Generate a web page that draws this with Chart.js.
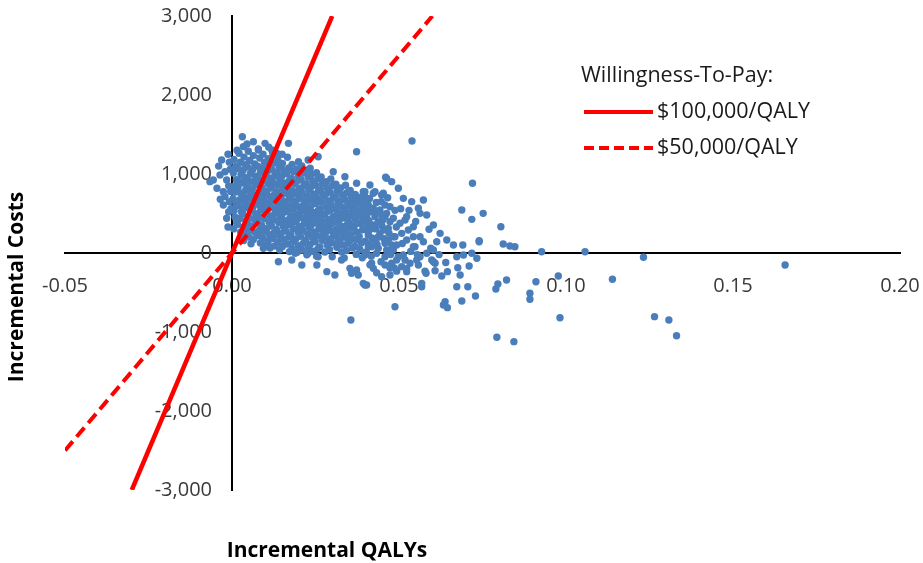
<!DOCTYPE html>
<html lang="en">
<head>
<meta charset="UTF-8">
<title>Incremental cost-effectiveness plane</title>
<script src="https://cdn.jsdelivr.net/npm/chart.js@4.4.0/dist/chart.umd.min.js"></script>
<style>
    html, body { margin: 0; padding: 0; background: #fff; }
    .wrap { width: 923px; height: 563px; position: relative; }
</style>
</head>
<body>
<div class="wrap"><canvas id="plane"></canvas></div>
<script>
// axis ticks
const xTicks = [-0.05, 0.00, 0.05, 0.10, 0.15, 0.20];
const yTicks = [-3000, -2000, -1000, 0, 1000, 2000, 3000];

// willingness-to-pay thresholds (end points of each line)
const wtpLabels = ['$100,000/QALY', '$50,000/QALY'];
const wtp100 = [[-0.03, -3000], [0.03, 3000]];
const wtp50 = [[-0.05, -2500], [0.06, 3000]];

// simulations: [incremental QALYs, incremental costs]
// left of the y axis
const leftPts = [[-0.0031,1177],[-0.0056,924],[-0.0066,903],[-0.0021,1029],[-0.0036,987],[-0.0016,924],
    [-0.0026,776],[-0.0021,713],[-0.0026,608],[-0.0016,439],[-0.0040,1100],[-0.0012,1250],[-0.0008,1150],
    [-0.0045,820],[-0.0010,850],[-0.0008,650],[-0.0035,680],[-0.0010,520],[-0.0012,330],[-0.0005,1060],
    [-0.0004,780],[-0.0003,560]];

// dense core of the cloud
const corePts = [
    [0.0006,1185],[0.0011,1095],[0.0004,1012],[0.0013,928],[0.0007,846],[0.0010,771],[0.0003,688],[0.0012,612],[0.0006,538],[0.0009,457],[0.0014,384],[0.0005,305],
    [0.0021,1262],[0.0025,1148],[0.0019,1066],[0.0027,992],[0.0022,903],[0.0018,827],[0.0026,758],[0.0023,676],[0.0020,598],[0.0028,521],[0.0024,437],[0.0017,362],[0.0026,268],[0.0029,188],
    [0.0036,1214],[0.0040,1118],[0.0033,1043],[0.0038,957],[0.0035,884],[0.0041,797],[0.0034,722],[0.0039,641],[0.0037,567],[0.0032,493],[0.0042,406],[0.0036,331],[0.0040,247],[0.0035,158],
    [0.0049,1288],[0.0053,1172],[0.0047,1087],[0.0055,1003],[0.0050,918],[0.0046,852],[0.0054,768],[0.0051,693],[0.0048,607],[0.0056,533],[0.0052,448],[0.0047,371],[0.0053,287],[0.0050,203],[0.0057,118],
    [0.0064,1233],[0.0068,1128],[0.0062,1054],[0.0070,968],[0.0065,893],[0.0061,808],[0.0069,733],[0.0066,657],[0.0063,582],[0.0071,497],[0.0067,423],[0.0060,338],[0.0068,262],[0.0064,172],
    [0.0079,1318],[0.0083,1203],[0.0077,1098],[0.0085,1023],[0.0080,937],[0.0076,862],[0.0084,778],[0.0081,703],[0.0078,618],[0.0086,543],[0.0082,458],[0.0077,382],[0.0083,297],[0.0080,218],[0.0085,128],
    [0.0093,1252],[0.0097,1147],[0.0091,1073],[0.0099,987],[0.0094,912],[0.0090,828],[0.0098,752],[0.0095,667],[0.0092,592],[0.0100,508],[0.0096,433],[0.0089,348],[0.0097,272],[0.0093,187],[0.0099,98],
    [0.0108,1193],[0.0112,1108],[0.0106,1032],[0.0114,947],[0.0109,872],[0.0105,787],[0.0113,712],[0.0110,627],[0.0107,552],[0.0115,468],[0.0111,393],[0.0104,307],[0.0112,232],[0.0108,148],[0.0114,62],
    [0.0122,1258],[0.0126,1142],[0.0120,1058],[0.0128,982],[0.0123,897],[0.0119,822],[0.0127,737],[0.0124,662],[0.0121,577],[0.0129,503],[0.0125,418],[0.0118,342],[0.0126,257],[0.0122,183],[0.0128,88],
    [0.0137,1183],[0.0141,1098],[0.0135,1023],[0.0143,937],[0.0138,862],[0.0134,777],[0.0142,702],[0.0139,617],[0.0136,543],[0.0144,458],[0.0140,382],[0.0133,297],[0.0141,222],[0.0137,137],[0.0143,42],
    [0.0151,1133],[0.0155,1048],[0.0149,972],[0.0157,887],[0.0152,812],[0.0148,728],[0.0156,652],[0.0153,567],[0.0150,492],[0.0158,408],[0.0154,332],[0.0147,247],[0.0155,172],[0.0151,82],
    [0.0166,1212],[0.0170,1078],[0.0164,1003],[0.0172,918],[0.0167,842],[0.0163,757],[0.0171,682],[0.0168,598],[0.0165,522],[0.0173,437],[0.0169,362],[0.0162,277],[0.0170,202],[0.0166,113],[0.0172,18],
    [0.0180,1122],[0.0184,1033],[0.0178,947],[0.0186,872],[0.0181,788],[0.0177,712],[0.0185,628],[0.0182,553],[0.0179,468],[0.0187,392],[0.0183,307],[0.0176,232],[0.0184,147],[0.0180,58],
    [0.0195,1063],[0.0199,978],[0.0193,902],[0.0201,818],[0.0196,742],[0.0192,657],[0.0200,582],[0.0197,497],[0.0194,422],[0.0202,337],[0.0198,262],[0.0191,177],[0.0199,92],[0.0195,8],
    [0.0209,1102],[0.0213,1012],[0.0207,928],[0.0215,852],[0.0210,768],[0.0206,692],[0.0214,607],[0.0211,532],[0.0208,448],[0.0216,372],[0.0212,287],[0.0205,212],[0.0213,122],[0.0209,38],
    [0.0224,1048],[0.0228,962],[0.0222,878],[0.0230,802],[0.0225,718],[0.0221,642],[0.0229,557],[0.0226,482],[0.0223,398],[0.0231,322],[0.0227,237],[0.0220,162],[0.0228,68],[0.0224,-22],
    [0.0238,993],[0.0242,908],[0.0236,832],[0.0244,748],[0.0239,672],[0.0235,587],[0.0243,512],[0.0240,428],[0.0237,352],[0.0245,268],[0.0241,192],[0.0234,107],[0.0242,22],
    [0.0253,1018],[0.0257,942],[0.0251,858],[0.0259,782],[0.0254,698],[0.0250,622],[0.0258,537],[0.0255,462],[0.0252,378],[0.0260,302],[0.0256,217],[0.0249,142],[0.0257,52],[0.0253,-38],
    [0.0267,962],[0.0271,878],[0.0265,802],[0.0273,718],[0.0268,642],[0.0264,557],[0.0272,482],[0.0269,398],[0.0266,322],[0.0274,237],[0.0270,162],[0.0263,78],
    [0.0282,902],[0.0286,818],[0.0280,742],[0.0288,658],[0.0283,582],[0.0279,497],[0.0287,422],[0.0284,338],[0.0281,262],[0.0289,178],[0.0285,102],[0.0278,12],
    [0.0296,938],[0.0300,852],[0.0294,768],[0.0302,692],[0.0297,607],[0.0293,532],[0.0301,448],[0.0298,372],[0.0295,287],[0.0303,212],[0.0299,128],[0.0292,42],[0.0300,-48],
    [0.0311,872],[0.0315,788],[0.0309,712],[0.0317,628],[0.0312,552],[0.0308,467],[0.0316,392],[0.0313,307],[0.0310,232],[0.0318,147],[0.0314,72],
    [0.0325,822],[0.0329,738],[0.0323,657],[0.0331,582],[0.0326,498],[0.0322,422],[0.0330,337],[0.0327,262],[0.0324,178],[0.0332,102],[0.0328,12],
    [0.0340,858],[0.0344,762],[0.0338,678],[0.0346,602],[0.0341,518],[0.0337,442],[0.0345,358],[0.0342,282],[0.0339,198],[0.0347,122],[0.0343,32],[0.0336,-62],
    [0.0354,792],[0.0358,708],[0.0352,632],[0.0360,548],[0.0355,472],[0.0351,388],[0.0359,312],[0.0356,228],[0.0353,152],[0.0361,62],
    [0.0369,742],[0.0373,658],[0.0367,582],[0.0375,498],[0.0370,422],[0.0366,338],[0.0374,262],[0.0371,172],[0.0368,82],[0.0372,-18]
];

// upper fringe of the cloud
const topPts = [[0.0031,1472],[0.0064,1409],[0.0034,1346],[0.0079,1304],[0.0099,1388],[0.0119,1304],[0.0134,1262],
    [0.0169,1388],[0.0199,1156],[0.0228,1177],[0.0258,1219],[0.0234,1072],[0.0373,1282],[0.0303,1029],[0.0338,966],
    [0.0373,882],[0.0398,776],[0.0363,650],[0.0388,544],[0.0539,1418],[0.0150,1250],[0.0045,1380],[0.0110,1340],[0.0015,1300]];

// right-hand spread of the cloud
const midPts = [[0.0413,861],[0.0463,945],[0.0478,903],[0.0498,819],[0.0393,776],[0.0423,756],[0.0448,734],[0.0460,958],
    [0.0428,776],[0.0453,756],[0.0513,692],[0.0538,650],[0.0573,671],[0.0558,566],[0.0583,481],[0.0563,502],[0.0603,354],
    [0.0623,249],[0.0643,165],[0.0613,143],[0.0603,38],[0.0518,418],[0.0528,291],[0.0508,249],[0.0543,206],[0.0523,165],
    [0.0573,143],[0.0548,80],[0.0583,-4],[0.0563,-47],[0.0598,-89],[0.0608,-130],[0.0558,-152],[0.0518,-89],[0.0498,-47],
    [0.0483,38],[0.0458,-47],[0.0433,-4],[0.0508,-173],[0.0478,-130],[0.0458,-152],[0.0423,-194],[0.0418,-130],[0.0523,-236],
    [0.0473,-278],[0.0448,-300],[0.0483,439],[0.0458,460],[0.0438,396],[0.0418,354],[0.0468,312],[0.0443,249],[0.0408,270],
    [0.0488,206],[0.0428,165],[0.0458,123],[0.0478,101],[0.0408,80],[0.0438,59],[0.0493,101],[0.0398,671],[0.0408,608],
    [0.0423,566],[0.0443,544],[0.0458,608],[0.0473,586],[0.0403,502],[0.0428,460],[0.0448,481],[0.0523,460],[0.0503,376],
    [0.0543,333],[0.0563,206],[0.0463,502],[0.0473,396],[0.0453,291],[0.0483,206],[0.0463,38],[0.0403,460],[0.0428,354],
    [0.0408,228],[0.0418,80],[0.0398,-25],[0.0543,80],[0.0513,-25],[0.0553,-89],[0.0533,-130],[0.0493,-89],[0.0688,544],
    [0.0752,502],[0.0718,426],[0.0805,333],[0.0740,156],[0.0720,882],
    [0.0382,702],[0.0386,615],[0.0380,530],[0.0389,455],[0.0384,372],[0.0391,295],[0.0381,210],[0.0387,128],[0.0383,45],
    [0.0390,-60],[0.0396,738],[0.0401,580],[0.0397,395],[0.0404,330],[0.0399,150],[0.0402,12],[0.0412,690],[0.0416,520],
    [0.0410,410],[0.0414,300],[0.0419,190],[0.0411,110],[0.0417,-40],[0.0432,640],[0.0436,510],[0.0430,305],[0.0437,200],
    [0.0434,110],[0.0447,650],[0.0452,420],[0.0449,345],[0.0455,180],[0.0446,-110],[0.0466,700],[0.0470,250],[0.0468,160],
    [0.0475,-20],[0.0488,540],[0.0492,330],[0.0486,-190],[0.0505,560],[0.0510,120],[0.0530,540],[0.0535,20],[0.0550,400],
    [0.0555,-20],[0.0590,300],[0.0595,60],[0.0620,-20],[0.0640,-120]];

// sparse points below the cloud and to the right
const tailPts = [[0.0927,16],[0.1057,16],[0.0977,-291],[0.0910,-363],[0.0892,-510],[0.0892,-586],[0.0982,-819],
    [0.0822,-342],[0.0796,-392],[0.0790,-456],[0.0793,-1067],[0.0844,-1122],[0.0729,-544],[0.0688,-608],[0.0638,-616],
    [0.0633,-658],[0.0645,-692],[0.0673,-427],[0.0706,-427],[0.0628,-291],[0.0645,-236],[0.0683,-278],[0.0676,-186],
    [0.0710,-165],[0.0673,-47],[0.0693,-25],[0.0718,-4],[0.0733,-67],[0.0603,-110],[0.0812,114],[0.0832,89],[0.0847,80],
    [0.0663,101],[0.0691,101],[0.0740,143],[0.1232,-54],[0.1139,-333],[0.1265,-806],[0.1308,-848],[0.1331,-1047],
    [0.1656,-152],[0.0488,-680],[0.0568,-384],[0.0568,-427],[0.0581,-257],[0.0398,-405],[0.0356,-848],[0.0094,59],
    [0.0114,80],[0.0139,-110],[0.0179,-89],[0.0209,-152],[0.0254,-152],[0.0284,-236],[0.0308,-278],[0.0328,-89],
    [0.0353,-194],[0.0358,-257],[0.0378,-278],[0.0393,-384],[0.0403,-405],[0.0189,-4],[0.0228,-4],[0.0258,-47],
    [0.0373,-215],[0.0413,-150],[0.0433,-250],[0.0473,-190],[0.0493,-230],[0.0523,-200],[0.0578,-230],[0.0608,-225]];

const toXY = arr => arr.map(p => ({ x: p[0], y: p[1] }));
const cloud = toXY([].concat(leftPts, corePts, topPts, midPts, tailPts));

const tickFont = { family: 'Open Sans', size: 20 };
const tickColor = '#3a3a3a';

// drop the extra room chart.js keeps for edge labels so the layout padding decides the plot box
const noEdgePadding = s => {
    s.paddingTop = 0; s.paddingBottom = 0; s.paddingLeft = 0; s.paddingRight = 0;
};

// axis titles and the legend box, drawn on top
const decorations = {
    id: 'decorations',
    afterDraw(chart) {
        const ctx = chart.ctx;
        ctx.save();
        ctx.fillStyle = '#000';
        ctx.font = 'bold 21px "Open Sans"';
        ctx.textAlign = 'center';
        ctx.textBaseline = 'middle';
        ctx.fillText('Incremental QALYs', 327, 551);
        ctx.translate(17, 287);
        ctx.rotate(-Math.PI / 2);
        ctx.fillText('Incremental Costs', 0, 0);
        ctx.restore();

        ctx.save();
        ctx.fillStyle = '#1a1a1a';
        ctx.font = '21.5px "Open Sans"';
        ctx.textAlign = 'left';
        ctx.textBaseline = 'middle';
        ctx.fillText('Willingness-To-Pay:', 581, 76);
        ctx.strokeStyle = '#ff0000';
        ctx.lineWidth = 4;
        for (let i = 0; i < wtpLabels.length; i++) {
            const y = 112 + i * 36;
            ctx.setLineDash(i === 0 ? [] : [10, 5]);
            ctx.beginPath();
            ctx.moveTo(584, y);
            ctx.lineTo(653, y);
            ctx.stroke();
            ctx.fillText(wtpLabels[i], 657, y);
        }
        ctx.restore();
    }
};

new Chart(document.getElementById('plane'), {
    type: 'scatter',
    data: {
        datasets: [
            {
                label: wtpLabels[0],
                type: 'line',
                data: toXY(wtp100),
                borderColor: '#ff0000',
                borderWidth: 4.5,
                pointRadius: 0,
                fill: false,
                order: 0
            },
            {
                label: wtpLabels[1],
                type: 'line',
                data: toXY(wtp50),
                borderColor: '#ff0000',
                borderWidth: 4,
                borderDash: [12, 6],
                pointRadius: 0,
                fill: false,
                order: 0
            },
            {
                label: 'Simulations',
                data: cloud,
                backgroundColor: '#4a7ebb',
                borderWidth: 0,
                pointRadius: 3.7,
                order: 1
            }
        ]
    },
    options: {
        responsive: true,
        maintainAspectRatio: false,
        animation: false,
        layout: { padding: { left: 65, right: 23, top: 16, bottom: 73 } },
        plugins: {
            legend: { display: false },
            tooltip: { enabled: false }
        },
        scales: {
            x: {
                type: 'linear',
                min: -0.05,
                max: 0.2,
                position: { y: 0 },
                afterFit: s => { s.height = 0; noEdgePadding(s); },
                afterBuildTicks: s => { s.ticks = xTicks.map(v => ({ value: v })); },
                grid: { display: false, drawTicks: false },
                border: { display: true, color: '#000', width: 2 },
                ticks: {
                    callback: v => v.toFixed(2),
                    color: tickColor,
                    font: tickFont,
                    padding: 21,
                    maxRotation: 0,
                    autoSkip: false
                }
            },
            y: {
                type: 'linear',
                min: -3000,
                max: 3000,
                position: { x: 0 },
                afterFit: s => { s.width = 0; noEdgePadding(s); },
                afterBuildTicks: s => { s.ticks = yTicks.map(v => ({ value: v })); },
                grid: { display: false, drawTicks: false },
                border: { display: true, color: '#000', width: 2 },
                ticks: {
                    // labels sit right-aligned on the axis line, so keep a gap after the number
                    callback: v => v.toLocaleString('en-US') + '\u2002\u2002',
                    color: tickColor,
                    font: tickFont,
                    autoSkip: false
                }
            }
        }
    },
    plugins: [decorations]
});
</script>
</body>
</html>
